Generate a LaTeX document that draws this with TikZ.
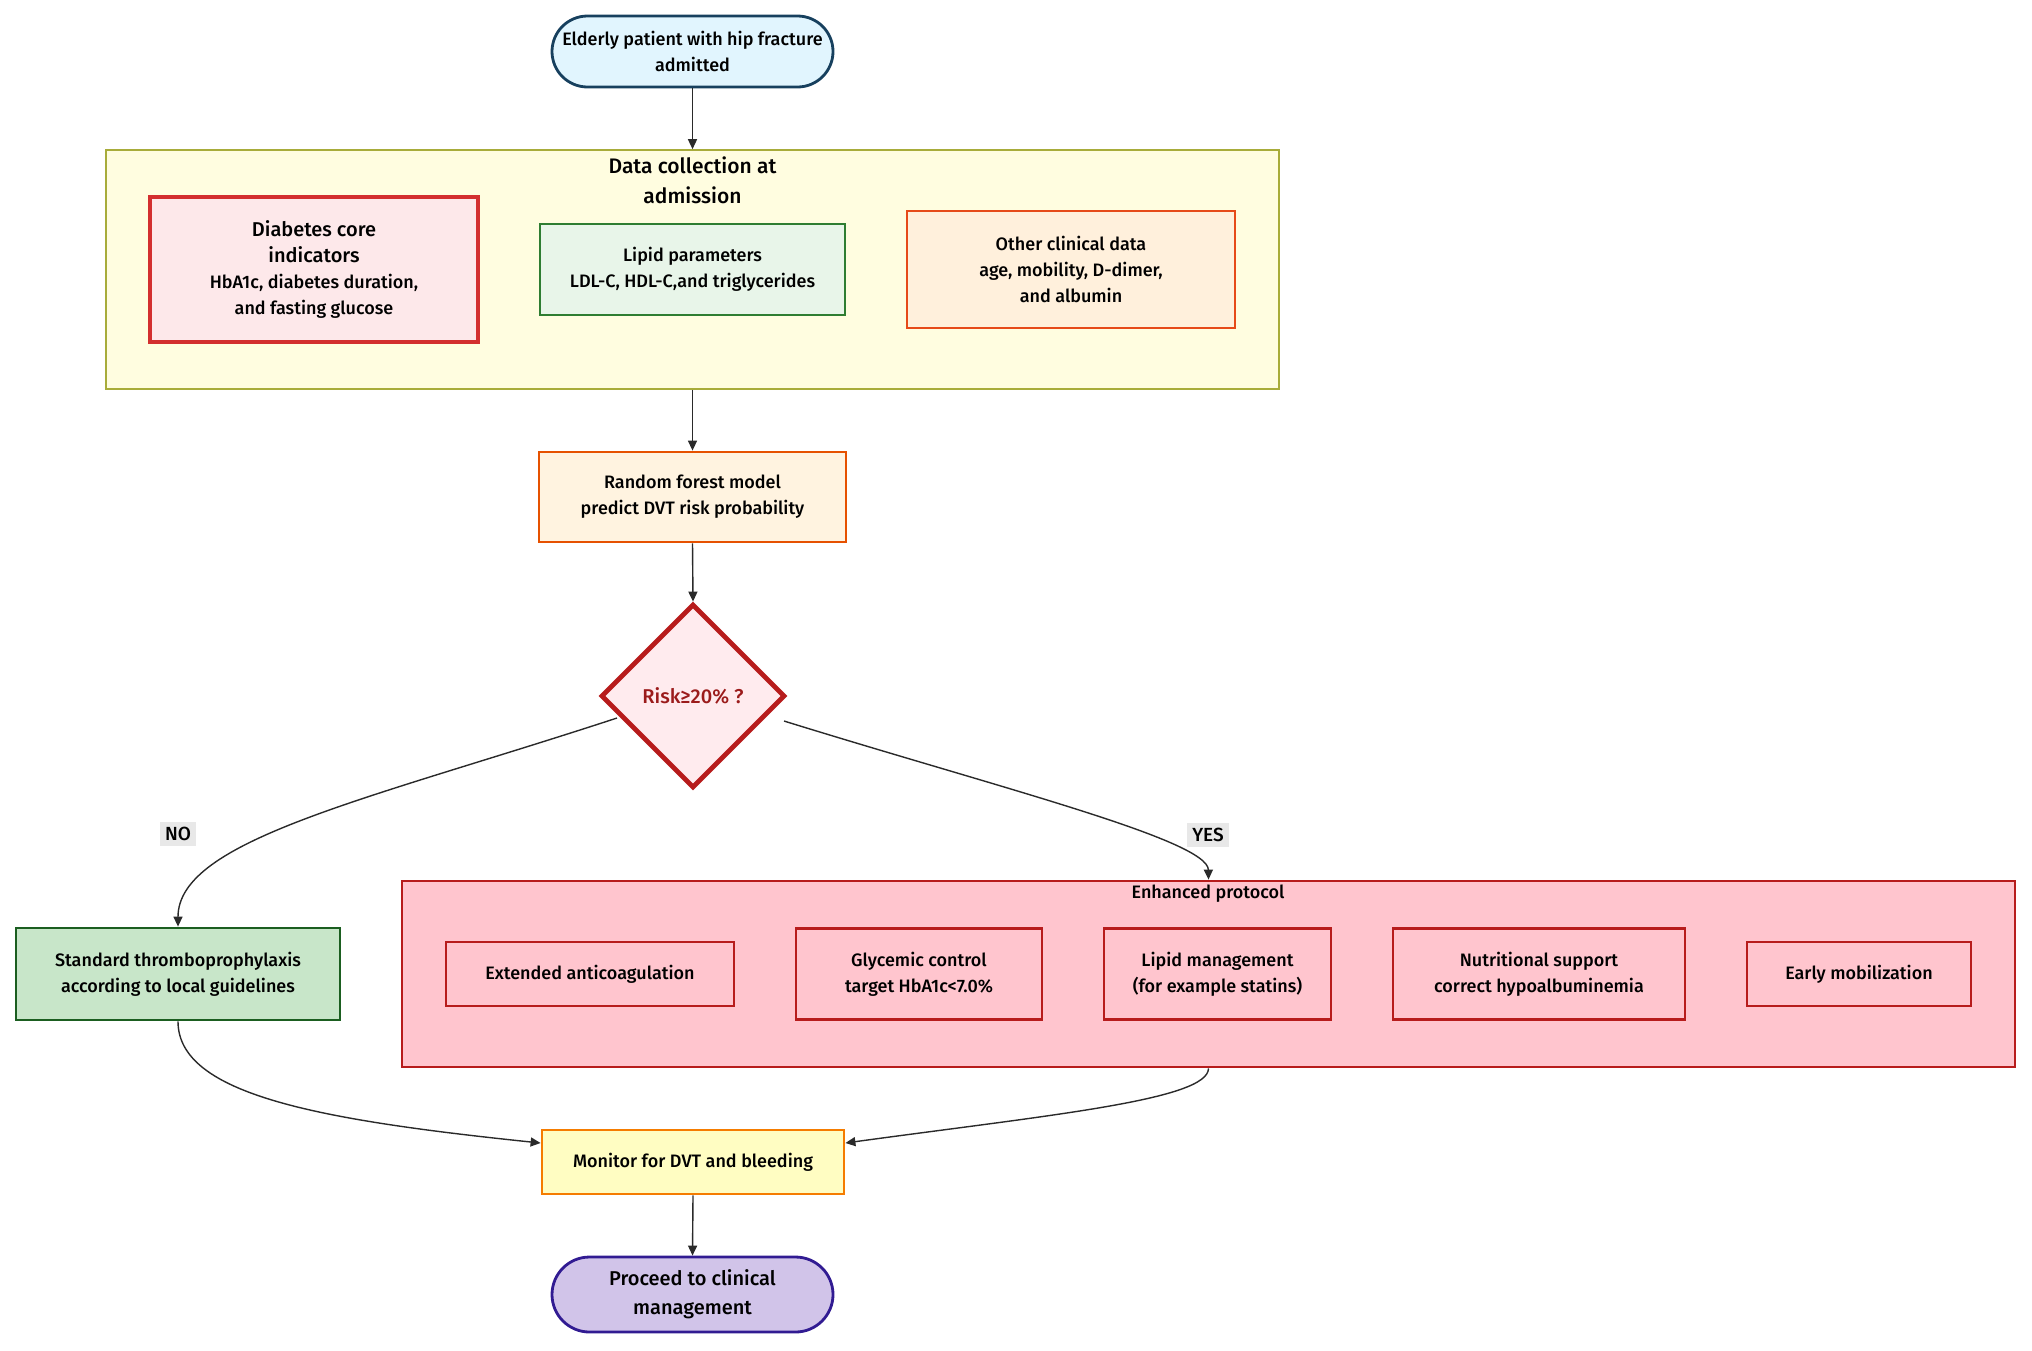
\documentclass[tikz,border=0pt]{standalone}
\usepackage{fontspec}
\setmainfont{Fira Sans}[UprightFont=* Medium]
\usetikzlibrary{shapes.geometric,shapes.misc,arrows.meta}
\definecolor{startfill}{HTML}{E1F5FE}
\definecolor{startdraw}{HTML}{17405E}
\definecolor{datafill}{HTML}{FFFDE0}
\definecolor{datadraw}{HTML}{A8AC3A}
\definecolor{diabfill}{HTML}{FDE8EA}
\definecolor{diabdraw}{HTML}{D32F2F}
\definecolor{lipfill}{HTML}{E8F5E9}
\definecolor{lipdraw}{HTML}{2E7D32}
\definecolor{othfill}{HTML}{FFF0DC}
\definecolor{othdraw}{HTML}{E64A19}
\definecolor{rffill}{HTML}{FFF3E0}
\definecolor{rfdraw}{HTML}{E65100}
\definecolor{diafill}{HTML}{FFEBEE}
\definecolor{diadraw}{HTML}{B71C1C}
\definecolor{diatext}{HTML}{9B1B1B}
\definecolor{stdfill}{HTML}{C8E6C9}
\definecolor{stddraw}{HTML}{1B5E20}
\definecolor{enhfill}{HTML}{FFC5CE}
\definecolor{enhdraw}{HTML}{B71C1C}
\definecolor{monfill}{HTML}{FFFDC2}
\definecolor{mondraw}{HTML}{F57C00}
\definecolor{profill}{HTML}{D1C4E9}
\definecolor{prodraw}{HTML}{311B92}
\definecolor{linkcol}{HTML}{2A2A2A}
\definecolor{lblfill}{HTML}{E8E8E8}
\tikzset{
  base/.style={draw, align=center, inner sep=2pt, text=black, font=\fontsize{9}{13}\selectfont},
  pill/.style={base, rounded rectangle, line width=1.4pt},
  box/.style={base, rectangle, line width=1.4pt},
  link/.style={draw=linkcol, line width=0.7pt, -{Triangle[length=5pt,width=4.5pt]}},
  lbl/.style={fill=lblfill, inner sep=2.5pt, text=black, font=\fontsize{9.5}{11}\selectfont},
  ttl/.style={align=center, text=black, inner sep=0pt}
}
\newcommand{\bigtxt}{\fontsize{10}{13}\selectfont}
\newcommand{\smtxt}{\fontsize{9}{13}\selectfont}
\begin{document}
\begin{tikzpicture}[x=0.5pt,y=-0.5pt]
\useasboundingbox (0,0) rectangle (2032,1350);

\node[pill, fill=startfill, draw=startdraw, minimum width=144.5pt, minimum height=35.5pt] (start) at (692.5,51.5) {Elderly patient with hip fracture\\admitted};

\node[box, fill=datafill, draw=datadraw, line width=0.8pt, minimum width=586.5pt, minimum height=119.5pt] (data) at (692.5,269.5) {};
\node[ttl, font=\fontsize{10.5}{15}\selectfont] (datattl) at (692.5,180) {Data collection at\\admission};

\node[box, fill=diabfill, draw=diabdraw, line width=1.9pt, minimum width=164pt, minimum height=72.5pt, font=\bigtxt] (diab) at (314,269.5) {Diabetes core\\indicators\\\smtxt HbA1c, diabetes duration,\\\smtxt and fasting glucose};
\node[box, fill=lipfill, draw=lipdraw, minimum width=152.5pt, minimum height=45.5pt] (lip) at (692.5,269.5) {Lipid parameters\\LDL-C, HDL-C,and triglycerides};
\node[box, fill=othfill, draw=othdraw, minimum width=164pt, minimum height=58.5pt] (oth) at (1071,269.5) {Other clinical data\\age, mobility, D-dimer,\\and albumin};

\node[box, fill=rffill, draw=rfdraw, minimum width=153.5pt, minimum height=45pt] (rf) at (692.5,497) {Random forest model\\predict DVT risk probability};

\node[base, diamond, aspect=1, fill=diafill, draw=diadraw, line width=2.4pt, minimum width=92pt, minimum height=92pt, inner sep=0pt, text=diatext, font=\fontsize{10}{12}\selectfont] (dec) at (693,696) {Risk≥20\% ?};

\node[box, fill=stdfill, draw=stddraw, minimum width=162pt, minimum height=46pt] (std) at (178,974) {Standard thromboprophylaxis\\according to local guidelines};

\node[box, fill=enhfill, draw=enhdraw, minimum width=806.5pt, minimum height=93pt] (enh) at (1208.5,974) {};
\node[ttl, font=\fontsize{9}{10}\selectfont] (enhttl) at (1208,894) {Enhanced protocol};
\node[box, fill=enhfill, draw=enhdraw, minimum width=144pt, minimum height=32pt] (ext) at (590,974) {Extended anticoagulation};
\node[box, fill=enhfill, draw=enhdraw, minimum width=123pt, minimum height=45.5pt] (gly) at (919,974) {Glycemic control\\target HbA1c<7.0\%};
\node[box, fill=enhfill, draw=enhdraw, minimum width=113.5pt, minimum height=45.5pt] (lipm) at (1217.5,974) {Lipid management\\(for example statins)};
\node[box, fill=enhfill, draw=enhdraw, minimum width=146pt, minimum height=45.5pt] (nut) at (1539,974) {Nutritional support\\correct hypoalbuminemia};
\node[box, fill=enhfill, draw=enhdraw, minimum width=112pt, minimum height=32pt] (early) at (1859,974) {Early mobilization};

\node[box, fill=monfill, draw=mondraw, minimum width=151pt, minimum height=32pt] (mon) at (693,1162) {Monitor for DVT and bleeding};
\node[pill, fill=profill, draw=prodraw, minimum width=144.5pt, minimum height=37.5pt, font=\fontsize{10}{14.5}\selectfont] (pro) at (692.5,1294.5) {Proceed to clinical\\management};

\node[lbl] (no) at (178,834) {NO};
\node[lbl] (yes) at (1208,835) {YES};

\coordinate (nostart) at (617,718);
\coordinate (yesstart) at (784,721);
\coordinate (monin) at (mon.west |- 0,1143);
\coordinate (monin2) at (mon.east |- 0,1143);

\draw[link] (start.south) -- (data.north);
\draw[link] (data.south) -- (rf.north);
\draw[link] (rf.south) -- (dec.north);
\draw[link] (nostart) .. controls (367,800) and (178,840) .. (std.north);
\draw[link] (yesstart) .. controls (1000,788) and (1208,840) .. (enh.north);
\draw[link] (std.south) .. controls (178,1095) and (320,1120) .. (monin);
\draw[link] (enh.south) .. controls (1208,1100) and (1050,1115) .. (monin2);
\draw[link] (mon.south) -- (pro.north);
\end{tikzpicture}
\end{document}
